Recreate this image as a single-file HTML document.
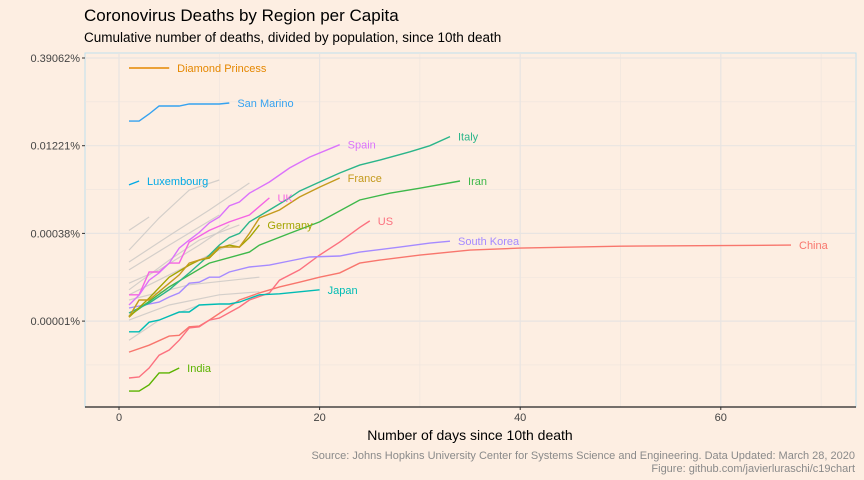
<!DOCTYPE html>
<html><head><meta charset="utf-8"><style>
html,body{margin:0;padding:0;background:#FDEEE2;}
svg{display:block;font-family:"Liberation Sans",sans-serif;}
</style></head><body>
<svg id="chart" width="864" height="480" viewBox="0 0 864 480">
<rect x="0" y="0" width="864" height="480" fill="#FDEEE2"/>
<text x="84" y="21" font-size="17" fill="#000">Coronovirus Deaths by Region per Capita</text>
<text x="84" y="42" font-size="13.5" fill="#000">Cumulative number of deaths, divided by population, since 10th death</text>
<g id="grid"></g>
<g id="gray"></g>
<g id="series"></g>
<g id="axes"></g>
<text x="470" y="440" font-size="14" text-anchor="middle" fill="#000">Number of days since 10th death</text>
<text x="855" y="459" font-size="11" text-anchor="end" fill="#8a8a8a">Source: Johns Hopkins University Center for Systems Science and Engineering. Data Updated: March 28, 2020</text>
<text x="855" y="472" font-size="11" text-anchor="end" fill="#8a8a8a">Figure: github.com/javierluraschi/c19chart</text>
</svg>
<script>
// values: deaths per million population
const xTicks = [0, 20, 40, 60];
const xMinor = [10, 30, 50, 70];
const yTickValues = [3906.25, 122.07, 3.815, 0.1192];
const yTickLabels = ["0.39062%", "0.01221%", "0.00038%", "0.00001%"];

const chinaDays = [1,3,5,6,7,8,9,12,14,16,18,20,22,24,26,30,33,35,40,50,67];
const chinaVals = [0.035,0.046,0.066,0.068,0.095,0.098,0.124,0.274,0.364,0.46,0.555,0.676,0.80,1.18,1.33,1.62,1.82,1.97,2.13,2.30,2.40];
const usDays = [1,2,3,4,5,6,7,8,9,10,12,13,15,16,18,20,22,24,25];
const usVals = [0.0126,0.0131,0.0187,0.031,0.038,0.056,0.091,0.095,0.124,0.134,0.208,0.274,0.364,0.60,0.90,1.62,2.71,4.83,6.25];
const spainDays = [1,2,3,4,5,6,7,8,9,10,11,12,13,15,17,19,22];
const spainVals = [0.225,0.333,0.60,0.80,1.18,2.13,2.93,3.96,5.77,7.3,11.3,13.2,18.7,29.1,50.5,77.7,127];
const italyDays = [1,3,5,7,9,10,11,12,13,15,17,18,20,22,24,26,29,31,33];
const italyVals = [0.164,0.243,0.41,0.80,1.62,2.40,3.25,3.81,6.0,9.6,15.5,20.3,29.1,41.5,56.7,69,96,122,175];
const iranDays = [1,5,9,13,14,17,20,24,27,30,34];
const iranVals = [0.146,0.46,1.18,1.82,2.40,3.81,6.0,14.3,18.7,22.8,30.3];
const franceDays = [1,2,3,5,6,7,8,9,10,12,13,14,16,18,20,22];
const franceVals = [0.14,0.274,0.274,0.533,0.739,1.18,1.33,1.50,2.22,2.22,3.81,7.0,9.6,16.1,23.8,34];
const germanyDays = [1,3,5,7,8,9,10,11,12,13,14];
const germanyVals = [0.139,0.296,0.676,1.09,1.33,1.44,2.13,2.40,2.22,3.25,5.34];
const ukDays = [1,2,3,4,5,6,7,9,11,13,15];
const ukVals = [0.337,0.337,0.83,0.83,1.18,1.18,2.71,4.29,6.0,7.9,15.5];
const koreaDays = [1,4,5,6,7,8,9,10,11,13,15,17,19,22,24,28,31,33];
const koreaVals = [0.20,0.253,0.309,0.364,0.533,0.555,0.676,0.676,0.83,1.01,1.09,1.28,1.50,1.56,1.82,2.22,2.6,2.8];
const japanDays = [1,2,3,4,6,7,8,10,11,12,14,16,20];
const japanVals = [0.078,0.078,0.114,0.124,0.171,0.171,0.225,0.234,0.234,0.253,0.337,0.35,0.41];
const indiaDays = [1,2,3,4,5,6];
const indiaVals = [0.0075,0.0075,0.0096,0.0154,0.0154,0.0187];
const luxDays = [1,2];
const luxVals = [25.9,30.3];
const sanMarinoDays = [1,2,3,4,6,7,10,11];
const sanMarinoVals = [323,323,427,586,586,634,634,660];
const diamondDays = [1,2,3,4,5];
const diamondVals = [2630,2630,2630,2630,2630];

const grayDays = [[1,4,7,10],[1,5,9,13],[1,5,10],[1,4,8,11],[1,6,12],[1,7,14],[1,5,10,14],[1,4,8],[1,3],[1,5,8,12]];
const grayVals = [[1.97,7.0,21.1,31.5],[1.23,3.5,9.6,28],[0.9,2.4,7.9],[0.533,0.9,2.4,5.34],[0.337,0.9,2.93],[0.274,0.50,0.676],[0.124,0.225,0.337,0.38],[0.056,0.124,0.225],[4.29,7.3],[0.41,1.33,2.93,5.34]];

const PX0 = 119, PXS = 10.03, PY0 = 58, PYS = 17.54;
const L = 85, R = 856, T = 53, B = 407;
function xs(d){ return PX0 + d*PXS; }
function ys(v){ return PY0 + (Math.log2(yTickValues[0]) - Math.log2(v))*PYS; }
const NS = "http://www.w3.org/2000/svg";
function mk(tag, attrs, parent){ const e = document.createElementNS(NS, tag); for (const k in attrs) e.setAttribute(k, attrs[k]); parent.appendChild(e); return e; }

const grid = document.getElementById('grid');
const panel = mk('rect', {x:L, y:T, width:R-L, height:B-T, fill:'#FDEEE2', stroke:'#BFE0EE', 'stroke-width':1}, grid);


xMinor.forEach(d => { const l = mk('line', {x1:xs(d), x2:xs(d), y1:T, y2:B, stroke:'#EDE4DE', 'stroke-width':0.6}, grid);
    });
for (let i = 0; i < yTickValues.length; i++) {
  const vm = Math.sqrt(yTickValues[i] * (i+1 < yTickValues.length ? yTickValues[i+1] : yTickValues[i]/32));
  const l = mk('line', {x1:L, x2:R, y1:ys(vm), y2:ys(vm), stroke:'#EDE4DE', 'stroke-width':0.6}, grid);
   
}
xTicks.forEach(d => { const l = mk('line', {x1:xs(d), x2:xs(d), y1:T, y2:B, stroke:'#E8E4E2', 'stroke-width':1.2}, grid);
    });
yTickValues.forEach(v => { const l = mk('line', {x1:L, x2:R, y1:ys(v), y2:ys(v), stroke:'#E8E4E2', 'stroke-width':1.2}, grid);
    });

const axes = document.getElementById('axes');
const xl = mk('line', {x1:L, x2:R, y1:B, y2:B, stroke:'#222', 'stroke-width':1.2}, axes);
 
xTicks.forEach(d => {
  const t = mk('line', {x1:xs(d), x2:xs(d), y1:B, y2:B+3, stroke:'#333'}, axes);
   
  const tx = mk('text', {x:xs(d), y:B+14, 'font-size':11, 'text-anchor':'middle', fill:'#444'}, axes);
  tx.textContent = d;
   
});
yTickValues.forEach((v, i) => {
  const t = mk('line', {x1:L-3, x2:L, y1:ys(v), y2:ys(v), stroke:'#333'}, axes);
   
  const tx = mk('text', {x:L-5, y:ys(v)+4, 'font-size':11, 'text-anchor':'end', fill:'#444'}, axes);
  tx.textContent = yTickLabels[i];
   
});

function path(days, vals){ return days.map((d,i) => (i?'L':'M') + xs(d).toFixed(1) + ',' + ys(vals[i]).toFixed(1)).join(''); }
const gray = document.getElementById('gray');
grayDays.forEach((d, i) => {
  const p = mk('path', {d:path(d, grayVals[i]), fill:'none', stroke:'#CFCBC8', 'stroke-width':1.2, opacity:0.9}, gray);
   
});

const series = [
  ['China', chinaDays, chinaVals, '#F8766D'],
  ['US', usDays, usVals, '#FC717F'],
  ['Japan', japanDays, japanVals, '#00BCB4'],
  ['South Korea', koreaDays, koreaVals, '#A58AFF'],
  ['India', indiaDays, indiaVals, '#5BB300'],
  ['Iran', iranDays, iranVals, '#3EB84A'],
  ['Italy', italyDays, italyVals, '#2BB58A'],
  ['Germany', germanyDays, germanyVals, '#A3A500'],
  ['France', franceDays, franceVals, '#C49A1C'],
  ['UK', ukDays, ukVals, '#F564E3'],
  ['Spain', spainDays, spainVals, '#DB72FB'],
  ['Luxembourg', luxDays, luxVals, '#00A9E5'],
  ['San Marino', sanMarinoDays, sanMarinoVals, '#35A2F0'],
  ['Diamond Princess', diamondDays, diamondVals, '#E58700']
];
const sg = document.getElementById('series');
series.forEach(s => {
  const key = s[0].toLowerCase().replace(/ /g,'-');
  const p = mk('path', {d:path(s[1], s[2]), fill:'none', stroke:s[3], 'stroke-width':1.4}, sg);
  
  
  const n = s[1].length - 1;
  const t = mk('text', {x:xs(s[1][n]) + 8, y:ys(s[2][n]) + 4, 'font-size':11, fill:s[3]}, sg);
  t.textContent = s[0];
  
  
});
</script>
</body></html>
